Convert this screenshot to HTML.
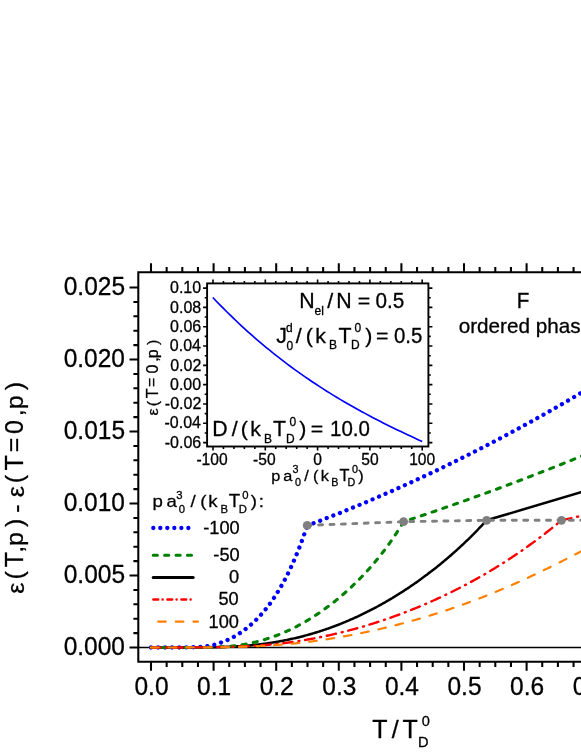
<!DOCTYPE html>
<html><head><meta charset="utf-8"><title>chart</title>
<style>html,body{margin:0;padding:0;background:#fff}svg{display:block;will-change:transform}text{font-family:"Liberation Sans",sans-serif;stroke:#000;stroke-width:.3px;stroke-linejoin:round}</style></head>
<body>
<svg width="581" height="752" viewBox="0 0 581 752" font-family="Liberation Sans, sans-serif" fill="#000">
<rect width="581" height="752" fill="#fff"/>
<g stroke="#000" stroke-width="2.05" fill="none" stroke-linecap="butt">
<path d="M583 272.3 H138.3 V661.7 H583"/>
<path d="M151.00 661.7 v9.0 M151.00 272.3 v-9.0 M166.65 661.7 v5.2 M166.65 272.3 v-5.2 M182.30 661.7 v5.2 M182.30 272.3 v-5.2 M197.95 661.7 v5.2 M197.95 272.3 v-5.2 M213.60 661.7 v9.0 M213.60 272.3 v-9.0 M229.25 661.7 v5.2 M229.25 272.3 v-5.2 M244.90 661.7 v5.2 M244.90 272.3 v-5.2 M260.55 661.7 v5.2 M260.55 272.3 v-5.2 M276.20 661.7 v9.0 M276.20 272.3 v-9.0 M291.85 661.7 v5.2 M291.85 272.3 v-5.2 M307.50 661.7 v5.2 M307.50 272.3 v-5.2 M323.15 661.7 v5.2 M323.15 272.3 v-5.2 M338.80 661.7 v9.0 M338.80 272.3 v-9.0 M354.45 661.7 v5.2 M354.45 272.3 v-5.2 M370.10 661.7 v5.2 M370.10 272.3 v-5.2 M385.75 661.7 v5.2 M385.75 272.3 v-5.2 M401.40 661.7 v9.0 M401.40 272.3 v-9.0 M417.05 661.7 v5.2 M417.05 272.3 v-5.2 M432.70 661.7 v5.2 M432.70 272.3 v-5.2 M448.35 661.7 v5.2 M448.35 272.3 v-5.2 M464.00 661.7 v9.0 M464.00 272.3 v-9.0 M479.65 661.7 v5.2 M479.65 272.3 v-5.2 M495.30 661.7 v5.2 M495.30 272.3 v-5.2 M510.95 661.7 v5.2 M510.95 272.3 v-5.2 M526.60 661.7 v9.0 M526.60 272.3 v-9.0 M542.25 661.7 v5.2 M542.25 272.3 v-5.2 M557.90 661.7 v5.2 M557.90 272.3 v-5.2 M573.55 661.7 v5.2 M573.55 272.3 v-5.2 M138.3 647.50 h-8.8 M138.3 633.10 h-4.9 M138.3 618.70 h-4.9 M138.3 604.30 h-4.9 M138.3 589.90 h-4.9 M138.3 575.50 h-8.8 M138.3 561.10 h-4.9 M138.3 546.70 h-4.9 M138.3 532.30 h-4.9 M138.3 517.90 h-4.9 M138.3 503.50 h-8.8 M138.3 489.10 h-4.9 M138.3 474.70 h-4.9 M138.3 460.30 h-4.9 M138.3 445.90 h-4.9 M138.3 431.50 h-8.8 M138.3 417.10 h-4.9 M138.3 402.70 h-4.9 M138.3 388.30 h-4.9 M138.3 373.90 h-4.9 M138.3 359.50 h-8.8 M138.3 345.10 h-4.9 M138.3 330.70 h-4.9 M138.3 316.30 h-4.9 M138.3 301.90 h-4.9 M138.3 287.50 h-8.8"/>
</g>
<path d="M138.3 647.5 H583" stroke="#000" stroke-width="1.7" fill="none"/>
<text transform="translate(124.96 655.30) scale(1 1.040)" font-size="24.5" text-anchor="end" >0.000</text>
<text transform="translate(125.03 583.30) scale(1 1.040)" font-size="24.5" text-anchor="end" >0.005</text>
<text transform="translate(124.96 511.30) scale(1 1.040)" font-size="24.5" text-anchor="end" >0.010</text>
<text transform="translate(125.03 439.30) scale(1 1.040)" font-size="24.5" text-anchor="end" >0.015</text>
<text transform="translate(124.96 367.30) scale(1 1.040)" font-size="24.5" text-anchor="end" >0.020</text>
<text transform="translate(125.03 295.30) scale(1 1.040)" font-size="24.5" text-anchor="end" >0.025</text>
<text transform="translate(151.50 694.50) scale(1 1.040)" font-size="24.5" text-anchor="middle" >0.0</text>
<text transform="translate(214.10 694.50) scale(1 1.040)" font-size="24.5" text-anchor="middle" >0.1</text>
<text transform="translate(276.70 694.50) scale(1 1.040)" font-size="24.5" text-anchor="middle" >0.2</text>
<text transform="translate(339.30 694.50) scale(1 1.040)" font-size="24.5" text-anchor="middle" >0.3</text>
<text transform="translate(401.90 694.50) scale(1 1.040)" font-size="24.5" text-anchor="middle" >0.4</text>
<text transform="translate(464.50 694.50) scale(1 1.040)" font-size="24.5" text-anchor="middle" >0.5</text>
<text transform="translate(527.10 694.50) scale(1 1.040)" font-size="24.5" text-anchor="middle" >0.6</text>
<text transform="translate(589.70 694.50) scale(1 1.040)" font-size="24.5" text-anchor="middle" >0.7</text>
<clipPath id="pc"><rect x="138.3" y="272.3" width="444.7" height="389.40000000000003"/></clipPath>
<g fill="none" clip-path="url(#pc)" stroke-linejoin="round">
<path d="M151.00 647.50 L152.00 647.50 L153.00 647.50 L154.00 647.50 L155.00 647.50 L156.00 647.50 L157.00 647.50 L158.00 647.50 L159.00 647.50 L160.00 647.50 L161.00 647.50 L162.00 647.50 L163.00 647.50 L164.00 647.50 L165.00 647.50 L166.00 647.50 L167.00 647.50 L168.00 647.50 L169.00 647.50 L170.00 647.50 L171.00 647.50 L172.00 647.50 L173.00 647.50 L174.00 647.50 L175.00 647.50 L176.00 647.49 L177.00 647.49 L178.00 647.49 L179.00 647.49 L180.00 647.49 L181.00 647.49 L182.00 647.49 L183.00 647.48 L184.00 647.48 L185.00 647.48 L186.00 647.48 L187.00 647.47 L188.00 647.47 L189.00 647.47 L190.00 647.46 L191.00 647.46 L192.00 647.45 L193.00 647.45 L194.00 647.44 L195.00 647.44 L196.00 647.43 L197.00 647.43 L198.00 647.42 L199.00 647.41 L200.00 647.40 L201.00 647.39 L202.00 647.38 L203.00 647.37 L204.00 647.36 L205.00 647.35 L206.00 647.34 L207.00 647.32 L208.00 647.31 L209.00 647.30 L210.00 647.28 L211.00 647.26 L212.00 647.25 L213.00 647.23 L214.00 647.21 L215.00 647.19 L216.00 647.16 L217.00 647.14 L218.00 647.12 L219.00 647.09 L220.00 647.07 L221.00 647.04 L222.00 647.01 L223.00 646.98 L224.00 646.94 L225.00 646.91 L226.00 646.88 L227.00 646.84 L228.00 646.80 L229.00 646.76 L230.00 646.72 L231.00 646.67 L232.00 646.63 L233.00 646.58 L234.00 646.53 L235.00 646.48 L236.00 646.42 L237.00 646.37 L238.00 646.31 L239.00 646.25 L240.00 646.18 L241.00 646.12 L242.00 646.05 L243.00 645.98 L244.00 645.91 L245.00 645.83 L246.00 645.75 L247.00 645.67 L248.00 645.59 L249.00 645.50 L250.00 645.41 L251.00 645.32 L252.00 645.22 L253.00 645.12 L254.00 645.02 L255.00 644.91 L256.00 644.80 L257.00 644.69 L258.00 644.57 L259.00 644.45 L260.00 644.33 L261.00 644.20 L262.00 644.08 L263.00 643.95 L264.00 643.81 L265.00 643.68 L266.00 643.54 L267.00 643.40 L268.00 643.25 L269.00 643.10 L270.00 642.95 L271.00 642.80 L272.00 642.64 L273.00 642.48 L274.00 642.32 L275.00 642.15 L276.00 641.98 L277.00 641.81 L278.00 641.64 L279.00 641.46 L280.00 641.27 L281.00 641.09 L282.00 640.90 L283.00 640.71 L284.00 640.52 L285.00 640.32 L286.00 640.12 L287.00 639.91 L288.00 639.71 L289.00 639.49 L290.00 639.28 L291.00 639.06 L292.00 638.84 L293.00 638.62 L294.00 638.39 L295.00 638.16 L296.00 637.92 L297.00 637.69 L298.00 637.45 L299.00 637.20 L300.00 636.95 L301.00 636.70 L302.00 636.45 L303.00 636.19 L304.00 635.93 L305.00 635.66 L306.00 635.39 L307.00 635.12 L308.00 634.84 L309.00 634.56 L310.00 634.28 L311.00 633.99 L312.00 633.70 L313.00 633.41 L314.00 633.11 L315.00 632.81 L316.00 632.50 L317.00 632.19 L318.00 631.88 L319.00 631.57 L320.00 631.25 L321.00 630.92 L322.00 630.60 L323.00 630.26 L324.00 629.93 L325.00 629.59 L326.00 629.25 L327.00 628.90 L328.00 628.56 L329.00 628.20 L330.00 627.85 L331.00 627.49 L332.00 627.12 L333.00 626.75 L334.00 626.38 L335.00 626.01 L336.00 625.63 L337.00 625.24 L338.00 624.86 L339.00 624.47 L340.00 624.07 L341.00 623.67 L342.00 623.27 L343.00 622.87 L344.00 622.46 L345.00 622.04 L346.00 621.63 L347.00 621.21 L348.00 620.78 L349.00 620.35 L350.00 619.92 L351.00 619.48 L352.00 619.04 L353.00 618.60 L354.00 618.15 L355.00 617.70 L356.00 617.24 L357.00 616.78 L358.00 616.32 L359.00 615.85 L360.00 615.38 L361.00 614.91 L362.00 614.43 L363.00 613.95 L364.00 613.46 L365.00 612.97 L366.00 612.47 L367.00 611.97 L368.00 611.47 L369.00 610.97 L370.00 610.46 L371.00 609.94 L372.00 609.42 L373.00 608.90 L374.00 608.38 L375.00 607.85 L376.00 607.31 L377.00 606.77 L378.00 606.23 L379.00 605.69 L380.00 605.14 L381.00 604.58 L382.00 604.02 L383.00 603.46 L384.00 602.90 L385.00 602.33 L386.00 601.75 L387.00 601.17 L388.00 600.59 L389.00 600.01 L390.00 599.42 L391.00 598.82 L392.00 598.22 L393.00 597.62 L394.00 597.02 L395.00 596.40 L396.00 595.79 L397.00 595.17 L398.00 594.55 L399.00 593.92 L400.00 593.29 L401.00 592.65 L402.00 592.02 L403.00 591.37 L404.00 590.72 L405.00 590.07 L406.00 589.42 L407.00 588.75 L408.00 588.09 L409.00 587.42 L410.00 586.75 L411.00 586.07 L412.00 585.39 L413.00 584.70 L414.00 584.01 L415.00 583.31 L416.00 582.62 L417.00 581.91 L418.00 581.20 L419.00 580.49 L420.00 579.77 L421.00 579.05 L422.00 578.33 L423.00 577.59 L424.00 576.86 L425.00 576.12 L426.00 575.37 L427.00 574.63 L428.00 573.87 L429.00 573.11 L430.00 572.35 L431.00 571.58 L432.00 570.81 L433.00 570.03 L434.00 569.25 L435.00 568.46 L436.00 567.67 L437.00 566.87 L438.00 566.07 L439.00 565.27 L440.00 564.45 L441.00 563.64 L442.00 562.82 L443.00 561.99 L444.00 561.16 L445.00 560.32 L446.00 559.48 L447.00 558.63 L448.00 557.78 L449.00 556.92 L450.00 556.06 L451.00 555.19 L452.00 554.31 L453.00 553.43 L454.00 552.55 L455.00 551.66 L456.00 550.76 L457.00 549.86 L458.00 548.95 L459.00 548.04 L460.00 547.12 L461.00 546.19 L462.00 545.26 L463.00 544.32 L464.00 543.38 L465.00 542.43 L466.00 541.47 L467.00 540.51 L468.00 539.54 L469.00 538.57 L470.00 537.59 L471.00 536.60 L472.00 535.60 L473.00 534.60 L474.00 533.60 L475.00 532.58 L476.00 531.56 L477.00 530.53 L478.00 529.50 L479.00 528.46 L480.00 527.41 L481.00 526.35 L482.00 525.29 L483.00 524.22 L484.00 523.14 L485.00 522.05 L486.00 520.96 L486.60 520.30 L581.00 492.20 L600.00 486.50" stroke="#000000" stroke-width="2.5" stroke-linecap="round" stroke-dashoffset="0"/>
<path d="M151.00 647.50 L152.00 647.50 L153.00 647.50 L154.00 647.50 L155.00 647.50 L156.00 647.50 L157.00 647.50 L158.00 647.50 L159.00 647.50 L160.00 647.50 L161.00 647.50 L162.00 647.50 L163.00 647.50 L164.00 647.50 L165.00 647.50 L166.00 647.50 L167.00 647.50 L168.00 647.50 L169.00 647.50 L170.00 647.50 L171.00 647.50 L172.00 647.50 L173.00 647.50 L174.00 647.49 L175.00 647.49 L176.00 647.49 L177.00 647.49 L178.00 647.48 L179.00 647.48 L180.00 647.47 L181.00 647.47 L182.00 647.46 L183.00 647.45 L184.00 647.44 L185.00 647.43 L186.00 647.42 L187.00 647.41 L188.00 647.39 L189.00 647.37 L190.00 647.35 L191.00 647.32 L192.00 647.30 L193.00 647.27 L194.00 647.23 L195.00 647.19 L196.00 647.15 L197.00 647.10 L198.00 647.04 L199.00 646.98 L200.00 646.91 L201.00 646.83 L202.00 646.75 L203.00 646.66 L204.00 646.55 L205.00 646.44 L206.00 646.32 L207.00 646.18 L208.00 646.03 L209.00 645.87 L210.00 645.70 L211.00 645.51 L212.00 645.30 L213.00 645.07 L214.00 644.83 L215.00 644.55 L216.00 644.26 L217.00 643.95 L218.00 643.64 L219.00 643.31 L220.00 642.96 L221.00 642.61 L222.00 642.24 L223.00 641.85 L224.00 641.46 L225.00 641.04 L226.00 640.62 L227.00 640.18 L228.00 639.72 L229.00 639.25 L230.00 638.77 L231.00 638.27 L232.00 637.75 L233.00 637.22 L234.00 636.67 L235.00 636.11 L236.00 635.52 L237.00 634.93 L238.00 634.31 L239.00 633.68 L240.00 633.03 L241.00 632.36 L242.00 631.67 L243.00 630.96 L244.00 630.24 L245.00 629.49 L246.00 628.73 L247.00 627.95 L248.00 627.14 L249.00 626.32 L250.00 625.47 L251.00 624.60 L252.00 623.72 L253.00 622.81 L254.00 621.87 L255.00 620.92 L256.00 619.94 L257.00 618.94 L258.00 617.91 L259.00 616.86 L260.00 615.78 L261.00 614.68 L262.00 613.55 L263.00 612.40 L264.00 611.22 L265.00 610.01 L266.00 608.78 L267.00 607.52 L268.00 606.22 L269.00 604.90 L270.00 603.55 L271.00 602.17 L272.00 600.76 L273.00 599.31 L274.00 597.84 L275.00 596.33 L276.00 594.79 L277.00 593.21 L278.00 591.60 L279.00 589.95 L280.00 588.27 L281.00 586.55 L282.00 584.80 L283.00 583.00 L284.00 581.17 L285.00 579.30 L286.00 577.38 L287.00 575.43 L288.00 573.43 L289.00 571.40 L290.00 569.31 L291.00 567.19 L292.00 565.02 L293.00 562.80 L294.00 560.54 L295.00 558.22 L296.00 555.86 L297.00 553.45 L298.00 550.99 L299.00 548.48 L300.00 545.91 L301.00 543.29 L302.00 540.62 L303.00 537.89 L304.00 535.11 L305.00 532.26 L306.00 529.36 L307.00 526.40 L307.20 525.40" stroke="#0000ff" stroke-width="4.3" stroke-dasharray="0.01 7.043" stroke-linecap="round" stroke-dashoffset="0"/>
<path d="M307.20 525.40 L315.20 522.57 L323.20 519.50 L331.20 516.37 L339.20 513.19 L347.20 509.96 L355.20 506.68 L363.20 503.35 L371.20 499.96 L379.20 496.53 L387.20 493.04 L395.20 489.50 L403.20 485.91 L411.20 482.27 L419.20 478.58 L427.20 474.84 L435.20 471.05 L443.20 467.20 L451.20 463.31 L459.20 459.36 L467.20 455.36 L475.20 451.31 L483.20 447.21 L491.20 443.06 L499.20 438.85 L507.20 434.60 L515.20 430.29 L523.20 425.94 L531.20 421.53 L539.20 417.07 L547.20 412.56 L555.20 408.00 L563.20 403.39 L571.20 398.72 L579.20 394.01 L587.20 389.24 L595.20 384.42 L600.00 381.51" stroke="#0000ff" stroke-width="4.3" stroke-dasharray="0.01 7.06" stroke-linecap="round" stroke-dashoffset="-6.7"/>
<path d="M151.00 647.50 L152.00 647.50 L153.00 647.50 L154.00 647.50 L155.00 647.50 L156.00 647.50 L157.00 647.50 L158.00 647.50 L159.00 647.50 L160.00 647.50 L161.00 647.50 L162.00 647.50 L163.00 647.50 L164.00 647.50 L165.00 647.50 L166.00 647.50 L167.00 647.50 L168.00 647.50 L169.00 647.50 L170.00 647.50 L171.00 647.50 L172.00 647.50 L173.00 647.50 L174.00 647.50 L175.00 647.50 L176.00 647.50 L177.00 647.50 L178.00 647.50 L179.00 647.50 L180.00 647.50 L181.00 647.50 L182.00 647.50 L183.00 647.49 L184.00 647.49 L185.00 647.49 L186.00 647.49 L187.00 647.49 L188.00 647.49 L189.00 647.48 L190.00 647.48 L191.00 647.48 L192.00 647.48 L193.00 647.47 L194.00 647.47 L195.00 647.46 L196.00 647.46 L197.00 647.45 L198.00 647.45 L199.00 647.44 L200.00 647.43 L201.00 647.42 L202.00 647.41 L203.00 647.40 L204.00 647.39 L205.00 647.38 L206.00 647.36 L207.00 647.35 L208.00 647.33 L209.00 647.31 L210.00 647.29 L211.00 647.27 L212.00 647.25 L213.00 647.22 L214.00 647.19 L215.00 647.16 L216.00 647.13 L217.00 647.09 L218.00 647.06 L219.00 647.01 L220.00 646.97 L221.00 646.92 L222.00 646.87 L223.00 646.82 L224.00 646.76 L225.00 646.70 L226.00 646.63 L227.00 646.56 L228.00 646.48 L229.00 646.40 L230.00 646.31 L231.00 646.22 L232.00 646.12 L233.00 646.02 L234.00 645.90 L235.00 645.79 L236.00 645.66 L237.00 645.53 L238.00 645.39 L239.00 645.24 L240.00 645.09 L241.00 644.93 L242.00 644.77 L243.00 644.60 L244.00 644.42 L245.00 644.25 L246.00 644.06 L247.00 643.87 L248.00 643.67 L249.00 643.47 L250.00 643.27 L251.00 643.05 L252.00 642.83 L253.00 642.61 L254.00 642.38 L255.00 642.14 L256.00 641.90 L257.00 641.65 L258.00 641.39 L259.00 641.13 L260.00 640.86 L261.00 640.59 L262.00 640.31 L263.00 640.02 L264.00 639.73 L265.00 639.43 L266.00 639.12 L267.00 638.81 L268.00 638.49 L269.00 638.16 L270.00 637.83 L271.00 637.49 L272.00 637.14 L273.00 636.79 L274.00 636.43 L275.00 636.07 L276.00 635.69 L277.00 635.31 L278.00 634.93 L279.00 634.53 L280.00 634.13 L281.00 633.73 L282.00 633.31 L283.00 632.89 L284.00 632.46 L285.00 632.03 L286.00 631.59 L287.00 631.14 L288.00 630.68 L289.00 630.22 L290.00 629.75 L291.00 629.28 L292.00 628.79 L293.00 628.30 L294.00 627.80 L295.00 627.30 L296.00 626.79 L297.00 626.27 L298.00 625.74 L299.00 625.21 L300.00 624.67 L301.00 624.12 L302.00 623.57 L303.00 623.00 L304.00 622.44 L305.00 621.86 L306.00 621.28 L307.00 620.69 L308.00 620.09 L309.00 619.48 L310.00 618.87 L311.00 618.25 L312.00 617.63 L313.00 616.99 L314.00 616.35 L315.00 615.70 L316.00 615.05 L317.00 614.39 L318.00 613.72 L319.00 613.04 L320.00 612.35 L321.00 611.66 L322.00 610.96 L323.00 610.26 L324.00 609.54 L325.00 608.82 L326.00 608.09 L327.00 607.35 L328.00 606.61 L329.00 605.86 L330.00 605.10 L331.00 604.33 L332.00 603.56 L333.00 602.77 L334.00 601.98 L335.00 601.19 L336.00 600.38 L337.00 599.57 L338.00 598.75 L339.00 597.92 L340.00 597.08 L341.00 596.23 L342.00 595.38 L343.00 594.52 L344.00 593.65 L345.00 592.77 L346.00 591.88 L347.00 590.98 L348.00 590.08 L349.00 589.17 L350.00 588.25 L351.00 587.31 L352.00 586.38 L353.00 585.43 L354.00 584.47 L355.00 583.50 L356.00 582.53 L357.00 581.54 L358.00 580.54 L359.00 579.54 L360.00 578.52 L361.00 577.50 L362.00 576.46 L363.00 575.42 L364.00 574.36 L365.00 573.29 L366.00 572.22 L367.00 571.13 L368.00 570.03 L369.00 568.92 L370.00 567.79 L371.00 566.66 L372.00 565.51 L373.00 564.36 L374.00 563.19 L375.00 562.00 L376.00 560.81 L377.00 559.60 L378.00 558.38 L379.00 557.14 L380.00 555.90 L381.00 554.63 L382.00 553.36 L383.00 552.06 L384.00 550.76 L385.00 549.44 L386.00 548.10 L387.00 546.75 L388.00 545.38 L389.00 544.00 L390.00 542.60 L391.00 541.18 L392.00 539.74 L393.00 538.29 L394.00 536.82 L395.00 535.33 L396.00 533.82 L397.00 532.29 L398.00 530.75 L399.00 529.18 L400.00 527.59 L401.00 525.98 L402.00 524.35 L403.00 522.70 L403.60 521.70 L411.60 519.04 L419.60 516.36 L427.60 513.65 L435.60 510.91 L443.60 508.14 L451.60 505.35 L459.60 502.53 L467.60 499.69 L475.60 496.81 L483.60 493.91 L491.60 490.98 L499.60 488.03 L507.60 485.05 L515.60 482.04 L523.60 479.00 L531.60 475.94 L539.60 472.84 L547.60 469.73 L555.60 466.58 L563.60 463.41 L571.60 460.21 L579.60 456.98 L587.60 453.73 L595.60 450.45 L600.00 448.63" stroke="#008000" stroke-width="3.1" stroke-dasharray="4.1 7.3" stroke-linecap="round" stroke-dashoffset="0"/>
<path d="M151.00 647.50 L152.00 647.50 L153.00 647.50 L154.00 647.50 L155.00 647.50 L156.00 647.50 L157.00 647.50 L158.00 647.50 L159.00 647.50 L160.00 647.50 L161.00 647.50 L162.00 647.50 L163.00 647.50 L164.00 647.50 L165.00 647.50 L166.00 647.50 L167.00 647.50 L168.00 647.50 L169.00 647.50 L170.00 647.50 L171.00 647.50 L172.00 647.50 L173.00 647.49 L174.00 647.49 L175.00 647.49 L176.00 647.49 L177.00 647.49 L178.00 647.49 L179.00 647.49 L180.00 647.48 L181.00 647.48 L182.00 647.48 L183.00 647.48 L184.00 647.47 L185.00 647.47 L186.00 647.47 L187.00 647.47 L188.00 647.46 L189.00 647.46 L190.00 647.45 L191.00 647.45 L192.00 647.44 L193.00 647.44 L194.00 647.43 L195.00 647.43 L196.00 647.42 L197.00 647.41 L198.00 647.41 L199.00 647.40 L200.00 647.39 L201.00 647.38 L202.00 647.37 L203.00 647.36 L204.00 647.35 L205.00 647.34 L206.00 647.33 L207.00 647.32 L208.00 647.31 L209.00 647.30 L210.00 647.28 L211.00 647.27 L212.00 647.25 L213.00 647.24 L214.00 647.22 L215.00 647.21 L216.00 647.19 L217.00 647.17 L218.00 647.15 L219.00 647.13 L220.00 647.11 L221.00 647.09 L222.00 647.07 L223.00 647.05 L224.00 647.02 L225.00 647.00 L226.00 646.97 L227.00 646.95 L228.00 646.92 L229.00 646.89 L230.00 646.86 L231.00 646.83 L232.00 646.80 L233.00 646.77 L234.00 646.73 L235.00 646.70 L236.00 646.66 L237.00 646.63 L238.00 646.59 L239.00 646.55 L240.00 646.51 L241.00 646.47 L242.00 646.42 L243.00 646.38 L244.00 646.33 L245.00 646.29 L246.00 646.24 L247.00 646.19 L248.00 646.14 L249.00 646.08 L250.00 646.03 L251.00 645.97 L252.00 645.92 L253.00 645.86 L254.00 645.80 L255.00 645.73 L256.00 645.67 L257.00 645.61 L258.00 645.54 L259.00 645.47 L260.00 645.40 L261.00 645.33 L262.00 645.25 L263.00 645.18 L264.00 645.10 L265.00 645.02 L266.00 644.94 L267.00 644.86 L268.00 644.77 L269.00 644.68 L270.00 644.59 L271.00 644.50 L272.00 644.41 L273.00 644.31 L274.00 644.22 L275.00 644.12 L276.00 644.01 L277.00 643.91 L278.00 643.80 L279.00 643.69 L280.00 643.58 L281.00 643.47 L282.00 643.35 L283.00 643.23 L284.00 643.11 L285.00 642.99 L286.00 642.86 L287.00 642.74 L288.00 642.61 L289.00 642.47 L290.00 642.34 L291.00 642.20 L292.00 642.06 L293.00 641.91 L294.00 641.76 L295.00 641.61 L296.00 641.46 L297.00 641.31 L298.00 641.15 L299.00 640.99 L300.00 640.83 L301.00 640.67 L302.00 640.51 L303.00 640.34 L304.00 640.17 L305.00 640.00 L306.00 639.83 L307.00 639.66 L308.00 639.48 L309.00 639.30 L310.00 639.12 L311.00 638.94 L312.00 638.75 L313.00 638.57 L314.00 638.38 L315.00 638.19 L316.00 637.99 L317.00 637.80 L318.00 637.60 L319.00 637.40 L320.00 637.20 L321.00 637.00 L322.00 636.79 L323.00 636.58 L324.00 636.37 L325.00 636.16 L326.00 635.95 L327.00 635.73 L328.00 635.52 L329.00 635.30 L330.00 635.07 L331.00 634.85 L332.00 634.62 L333.00 634.39 L334.00 634.16 L335.00 633.93 L336.00 633.70 L337.00 633.46 L338.00 633.22 L339.00 632.98 L340.00 632.74 L341.00 632.49 L342.00 632.24 L343.00 632.00 L344.00 631.74 L345.00 631.49 L346.00 631.23 L347.00 630.98 L348.00 630.72 L349.00 630.45 L350.00 630.19 L351.00 629.92 L352.00 629.66 L353.00 629.39 L354.00 629.11 L355.00 628.84 L356.00 628.56 L357.00 628.28 L358.00 628.00 L359.00 627.72 L360.00 627.43 L361.00 627.14 L362.00 626.86 L363.00 626.56 L364.00 626.27 L365.00 625.97 L366.00 625.68 L367.00 625.38 L368.00 625.07 L369.00 624.77 L370.00 624.46 L371.00 624.15 L372.00 623.84 L373.00 623.53 L374.00 623.21 L375.00 622.90 L376.00 622.58 L377.00 622.25 L378.00 621.93 L379.00 621.60 L380.00 621.28 L381.00 620.95 L382.00 620.61 L383.00 620.28 L384.00 619.94 L385.00 619.60 L386.00 619.26 L387.00 618.92 L388.00 618.57 L389.00 618.23 L390.00 617.88 L391.00 617.52 L392.00 617.17 L393.00 616.81 L394.00 616.45 L395.00 616.09 L396.00 615.73 L397.00 615.37 L398.00 615.00 L399.00 614.63 L400.00 614.26 L401.00 613.88 L402.00 613.51 L403.00 613.13 L404.00 612.75 L405.00 612.36 L406.00 611.98 L407.00 611.59 L408.00 611.20 L409.00 610.81 L410.00 610.42 L411.00 610.02 L412.00 609.62 L413.00 609.22 L414.00 608.82 L415.00 608.41 L416.00 608.00 L417.00 607.59 L418.00 607.18 L419.00 606.77 L420.00 606.35 L421.00 605.93 L422.00 605.51 L423.00 605.09 L424.00 604.66 L425.00 604.23 L426.00 603.80 L427.00 603.37 L428.00 602.93 L429.00 602.50 L430.00 602.06 L431.00 601.61 L432.00 601.17 L433.00 600.72 L434.00 600.27 L435.00 599.82 L436.00 599.37 L437.00 598.91 L438.00 598.45 L439.00 597.99 L440.00 597.53 L441.00 597.06 L442.00 596.59 L443.00 596.12 L444.00 595.65 L445.00 595.17 L446.00 594.69 L447.00 594.21 L448.00 593.73 L449.00 593.24 L450.00 592.76 L451.00 592.27 L452.00 591.77 L453.00 591.28 L454.00 590.78 L455.00 590.28 L456.00 589.78 L457.00 589.27 L458.00 588.76 L459.00 588.25 L460.00 587.74 L461.00 587.22 L462.00 586.70 L463.00 586.18 L464.00 585.66 L465.00 585.13 L466.00 584.60 L467.00 584.07 L468.00 583.54 L469.00 583.00 L470.00 582.46 L471.00 581.92 L472.00 581.37 L473.00 580.83 L474.00 580.28 L475.00 579.72 L476.00 579.17 L477.00 578.61 L478.00 578.05 L479.00 577.48 L480.00 576.92 L481.00 576.35 L482.00 575.78 L483.00 575.20 L484.00 574.62 L485.00 574.04 L486.00 573.46 L487.00 572.87 L488.00 572.29 L489.00 571.69 L490.00 571.10 L491.00 570.50 L492.00 569.90 L493.00 569.30 L494.00 568.69 L495.00 568.08 L496.00 567.47 L497.00 566.85 L498.00 566.24 L499.00 565.62 L500.00 564.99 L501.00 564.36 L502.00 563.73 L503.00 563.10 L504.00 562.47 L505.00 561.83 L506.00 561.18 L507.00 560.54 L508.00 559.89 L509.00 559.24 L510.00 558.58 L511.00 557.93 L512.00 557.27 L513.00 556.60 L514.00 555.93 L515.00 555.26 L516.00 554.59 L517.00 553.91 L518.00 553.23 L519.00 552.55 L520.00 551.86 L521.00 551.17 L522.00 550.48 L523.00 549.78 L524.00 549.08 L525.00 548.38 L526.00 547.67 L527.00 546.96 L528.00 546.25 L529.00 545.53 L530.00 544.81 L531.00 544.09 L532.00 543.36 L533.00 542.63 L534.00 541.90 L535.00 541.16 L536.00 540.42 L537.00 539.68 L538.00 538.93 L539.00 538.18 L540.00 537.42 L541.00 536.66 L542.00 535.90 L543.00 535.14 L544.00 534.37 L545.00 533.59 L546.00 532.82 L547.00 532.04 L548.00 531.25 L549.00 530.46 L550.00 529.67 L551.00 528.88 L552.00 528.08 L553.00 527.27 L554.00 526.47 L555.00 525.66 L556.00 524.84 L557.00 524.03 L558.00 523.20 L559.00 522.38 L560.00 521.55 L561.00 520.71 L561.50 520.30 L581.00 515.90 L600.00 511.60" stroke="#ff0000" stroke-width="2.4" stroke-dasharray="9.4 5.9 1.0 5.77" stroke-linecap="round" stroke-dashoffset="0"/>
<path d="M151.00 647.50 L152.00 647.50 L153.00 647.50 L154.00 647.50 L155.00 647.50 L156.00 647.50 L157.00 647.50 L158.00 647.50 L159.00 647.50 L160.00 647.50 L161.00 647.50 L162.00 647.50 L163.00 647.50 L164.00 647.50 L165.00 647.50 L166.00 647.50 L167.00 647.50 L168.00 647.50 L169.00 647.50 L170.00 647.50 L171.00 647.50 L172.00 647.50 L173.00 647.49 L174.00 647.49 L175.00 647.49 L176.00 647.49 L177.00 647.49 L178.00 647.49 L179.00 647.49 L180.00 647.49 L181.00 647.48 L182.00 647.48 L183.00 647.48 L184.00 647.48 L185.00 647.48 L186.00 647.47 L187.00 647.47 L188.00 647.47 L189.00 647.46 L190.00 647.46 L191.00 647.46 L192.00 647.45 L193.00 647.45 L194.00 647.44 L195.00 647.44 L196.00 647.44 L197.00 647.43 L198.00 647.42 L199.00 647.42 L200.00 647.41 L201.00 647.41 L202.00 647.40 L203.00 647.39 L204.00 647.38 L205.00 647.38 L206.00 647.37 L207.00 647.36 L208.00 647.35 L209.00 647.34 L210.00 647.33 L211.00 647.32 L212.00 647.31 L213.00 647.30 L214.00 647.28 L215.00 647.27 L216.00 647.26 L217.00 647.25 L218.00 647.23 L219.00 647.22 L220.00 647.20 L221.00 647.19 L222.00 647.17 L223.00 647.15 L224.00 647.14 L225.00 647.12 L226.00 647.10 L227.00 647.08 L228.00 647.06 L229.00 647.04 L230.00 647.02 L231.00 647.00 L232.00 646.97 L233.00 646.95 L234.00 646.92 L235.00 646.90 L236.00 646.87 L237.00 646.85 L238.00 646.82 L239.00 646.79 L240.00 646.76 L241.00 646.73 L242.00 646.70 L243.00 646.67 L244.00 646.64 L245.00 646.60 L246.00 646.57 L247.00 646.53 L248.00 646.50 L249.00 646.46 L250.00 646.42 L251.00 646.38 L252.00 646.34 L253.00 646.30 L254.00 646.26 L255.00 646.21 L256.00 646.17 L257.00 646.12 L258.00 646.08 L259.00 646.03 L260.00 645.98 L261.00 645.93 L262.00 645.88 L263.00 645.83 L264.00 645.77 L265.00 645.72 L266.00 645.66 L267.00 645.60 L268.00 645.54 L269.00 645.48 L270.00 645.42 L271.00 645.36 L272.00 645.29 L273.00 645.23 L274.00 645.16 L275.00 645.09 L276.00 645.02 L277.00 644.95 L278.00 644.88 L279.00 644.80 L280.00 644.73 L281.00 644.65 L282.00 644.57 L283.00 644.49 L284.00 644.41 L285.00 644.33 L286.00 644.24 L287.00 644.15 L288.00 644.07 L289.00 643.98 L290.00 643.88 L291.00 643.79 L292.00 643.70 L293.00 643.60 L294.00 643.50 L295.00 643.40 L296.00 643.30 L297.00 643.19 L298.00 643.09 L299.00 642.98 L300.00 642.87 L301.00 642.76 L302.00 642.64 L303.00 642.53 L304.00 642.41 L305.00 642.29 L306.00 642.17 L307.00 642.04 L308.00 641.92 L309.00 641.79 L310.00 641.66 L311.00 641.53 L312.00 641.40 L313.00 641.26 L314.00 641.13 L315.00 640.99 L316.00 640.85 L317.00 640.71 L318.00 640.57 L319.00 640.43 L320.00 640.28 L321.00 640.13 L322.00 639.99 L323.00 639.84 L324.00 639.69 L325.00 639.54 L326.00 639.38 L327.00 639.23 L328.00 639.07 L329.00 638.92 L330.00 638.76 L331.00 638.60 L332.00 638.43 L333.00 638.27 L334.00 638.11 L335.00 637.94 L336.00 637.77 L337.00 637.60 L338.00 637.43 L339.00 637.26 L340.00 637.09 L341.00 636.91 L342.00 636.74 L343.00 636.56 L344.00 636.38 L345.00 636.20 L346.00 636.02 L347.00 635.84 L348.00 635.65 L349.00 635.47 L350.00 635.28 L351.00 635.09 L352.00 634.90 L353.00 634.71 L354.00 634.51 L355.00 634.32 L356.00 634.12 L357.00 633.93 L358.00 633.73 L359.00 633.53 L360.00 633.32 L361.00 633.12 L362.00 632.92 L363.00 632.71 L364.00 632.50 L365.00 632.29 L366.00 632.08 L367.00 631.87 L368.00 631.66 L369.00 631.44 L370.00 631.23 L371.00 631.01 L372.00 630.79 L373.00 630.57 L374.00 630.35 L375.00 630.12 L376.00 629.90 L377.00 629.67 L378.00 629.44 L379.00 629.21 L380.00 628.98 L381.00 628.75 L382.00 628.52 L383.00 628.28 L384.00 628.04 L385.00 627.81 L386.00 627.57 L387.00 627.33 L388.00 627.08 L389.00 626.84 L390.00 626.59 L391.00 626.35 L392.00 626.10 L393.00 625.85 L394.00 625.60 L395.00 625.34 L396.00 625.09 L397.00 624.83 L398.00 624.58 L399.00 624.32 L400.00 624.06 L401.00 623.79 L402.00 623.53 L403.00 623.27 L404.00 623.00 L405.00 622.73 L406.00 622.46 L407.00 622.19 L408.00 621.92 L409.00 621.65 L410.00 621.37 L411.00 621.09 L412.00 620.82 L413.00 620.54 L414.00 620.25 L415.00 619.97 L416.00 619.69 L417.00 619.40 L418.00 619.11 L419.00 618.82 L420.00 618.53 L421.00 618.24 L422.00 617.95 L423.00 617.65 L424.00 617.36 L425.00 617.06 L426.00 616.76 L427.00 616.46 L428.00 616.15 L429.00 615.85 L430.00 615.54 L431.00 615.23 L432.00 614.92 L433.00 614.61 L434.00 614.30 L435.00 613.99 L436.00 613.67 L437.00 613.35 L438.00 613.04 L439.00 612.72 L440.00 612.39 L441.00 612.07 L442.00 611.75 L443.00 611.42 L444.00 611.09 L445.00 610.76 L446.00 610.43 L447.00 610.10 L448.00 609.76 L449.00 609.43 L450.00 609.09 L451.00 608.75 L452.00 608.41 L453.00 608.06 L454.00 607.72 L455.00 607.37 L456.00 607.03 L457.00 606.68 L458.00 606.33 L459.00 605.97 L460.00 605.62 L461.00 605.26 L462.00 604.91 L463.00 604.55 L464.00 604.19 L465.00 603.82 L466.00 603.46 L467.00 603.10 L468.00 602.73 L469.00 602.36 L470.00 601.99 L471.00 601.62 L472.00 601.24 L473.00 600.87 L474.00 600.49 L475.00 600.11 L476.00 599.73 L477.00 599.35 L478.00 598.97 L479.00 598.58 L480.00 598.19 L481.00 597.80 L482.00 597.41 L483.00 597.02 L484.00 596.63 L485.00 596.23 L486.00 595.84 L487.00 595.44 L488.00 595.04 L489.00 594.64 L490.00 594.23 L491.00 593.83 L492.00 593.42 L493.00 593.01 L494.00 592.60 L495.00 592.19 L496.00 591.78 L497.00 591.36 L498.00 590.95 L499.00 590.53 L500.00 590.11 L501.00 589.69 L502.00 589.26 L503.00 588.84 L504.00 588.41 L505.00 587.98 L506.00 587.55 L507.00 587.12 L508.00 586.69 L509.00 586.26 L510.00 585.82 L511.00 585.38 L512.00 584.94 L513.00 584.50 L514.00 584.06 L515.00 583.62 L516.00 583.17 L517.00 582.72 L518.00 582.28 L519.00 581.83 L520.00 581.37 L521.00 580.92 L522.00 580.47 L523.00 580.01 L524.00 579.55 L525.00 579.09 L526.00 578.63 L527.00 578.17 L528.00 577.71 L529.00 577.24 L530.00 576.78 L531.00 576.31 L532.00 575.84 L533.00 575.37 L534.00 574.89 L535.00 574.42 L536.00 573.95 L537.00 573.47 L538.00 572.99 L539.00 572.51 L540.00 572.03 L541.00 571.55 L542.00 571.07 L543.00 570.58 L544.00 570.10 L545.00 569.61 L546.00 569.12 L547.00 568.63 L548.00 568.14 L549.00 567.65 L550.00 567.16 L551.00 566.66 L552.00 566.17 L553.00 565.67 L554.00 565.17 L555.00 564.67 L556.00 564.17 L557.00 563.67 L558.00 563.17 L559.00 562.66 L560.00 562.16 L561.00 561.65 L562.00 561.15 L563.00 560.64 L564.00 560.13 L565.00 559.62 L566.00 559.11 L567.00 558.60 L568.00 558.09 L569.00 557.58 L570.00 557.07 L571.00 556.55 L572.00 556.04 L573.00 555.52 L574.00 555.00 L575.00 554.49 L576.00 553.97 L577.00 553.45 L578.00 552.93 L579.00 552.41 L580.00 551.89 L581.00 551.37 L582.00 550.85 L583.00 550.33 L584.00 549.81 L585.00 549.29 L586.00 548.76 L587.00 548.24 L588.00 547.72 L589.00 547.20 L590.00 546.67 L591.00 546.15 L592.00 545.62 L593.00 545.10 L594.00 544.58 L595.00 544.05 L596.00 543.53 L597.00 543.01 L598.00 542.48 L599.00 541.96" stroke="#ff8000" stroke-width="2.2" stroke-dasharray="7.6 10.0" stroke-linecap="round" stroke-dashoffset="0"/>
<path d="M307.20 525.40 L403.60 521.70 L486.60 520.30 L561.50 520.30 L600.00 520.30" stroke="#808080" stroke-width="2.9" stroke-dasharray="4.0 7.4" stroke-linecap="round"/>
<circle cx="307.2" cy="525.4" r="4.4" fill="#808080"/>
<circle cx="403.6" cy="521.7" r="4.4" fill="#808080"/>
<circle cx="486.6" cy="520.3" r="4.4" fill="#808080"/>
<circle cx="561.5" cy="520.3" r="4.4" fill="#808080"/>
</g>
<text transform="translate(516.80 307.90) scale(1 1.040)" font-size="20.7" text-anchor="start" >F</text>
<text transform="translate(458.73 332.80) scale(1 0.990)" font-size="20.7" text-anchor="start" >ordered phase</text>
<text transform="translate(372.34 737.50) scale(1 1.040)" font-size="25" text-anchor="start" >T</text>
<text transform="translate(391.80 737.50) scale(1 0.960)" font-size="25" text-anchor="start" >/</text>
<text transform="translate(402.44 737.50) scale(1 1.040)" font-size="25" text-anchor="start" >T</text>
<text transform="translate(421.73 725.80) scale(1 0.988)" font-size="14.6" text-anchor="start" >0</text>
<text transform="translate(417.90 746.60) scale(1 0.988)" font-size="14.6" text-anchor="start" >D</text>
<text transform="translate(24.38 593.85) rotate(-90) scale(1 0.950)" font-size="25">ε</text>
<text transform="translate(23.00 579.45) rotate(-90) scale(1 0.960)" font-size="25">(</text>
<text transform="translate(23.00 567.26) rotate(-90) scale(1 1.040)" font-size="25">T</text>
<text transform="translate(23.00 552.75) rotate(-90) scale(1 0.960)" font-size="25">,</text>
<text transform="translate(23.00 545.91) rotate(-90) scale(1 0.990)" font-size="25">p</text>
<text transform="translate(23.00 527.05) rotate(-90) scale(1 0.960)" font-size="25">)</text>
<text transform="translate(23.60 512.71) rotate(-90) scale(1 0.960)" font-size="25">-</text>
<text transform="translate(24.38 497.35) rotate(-90) scale(1 0.950)" font-size="25">ε</text>
<text transform="translate(23.00 483.25) rotate(-90) scale(1 0.960)" font-size="25">(</text>
<text transform="translate(23.00 470.46) rotate(-90) scale(1 1.040)" font-size="25">T</text>
<text transform="translate(22.20 452.32) rotate(-90) scale(1 0.960)" font-size="25">=</text>
<text transform="translate(23.00 433.88) rotate(-90) scale(1 1.040)" font-size="25">0</text>
<text transform="translate(23.00 416.15) rotate(-90) scale(1 0.960)" font-size="25">,</text>
<text transform="translate(23.00 409.21) rotate(-90) scale(1 0.990)" font-size="25">p</text>
<text transform="translate(23.00 390.15) rotate(-90) scale(1 0.960)" font-size="25">)</text>
<text transform="translate(152.60 507.00) scale(1 0.921)" font-size="18.67" text-anchor="start" >p</text>
<text transform="translate(166.41 507.00) scale(1 0.921)" font-size="18.67" text-anchor="start" >a</text>
<text transform="translate(190.40 507.00) scale(1 0.893)" font-size="18.67" text-anchor="start" >/</text>
<text transform="translate(200.24 507.00) scale(1 0.893)" font-size="18.67" text-anchor="start" >(</text>
<text transform="translate(208.24 507.00) scale(1 0.921)" font-size="18.67" text-anchor="start" >k</text>
<text transform="translate(228.78 507.00) scale(1 0.967)" font-size="18.67" text-anchor="start" >T</text>
<text transform="translate(250.79 507.00) scale(1 0.893)" font-size="18.67" text-anchor="start" >)</text>
<text transform="translate(258.80 507.00) scale(1 0.893)" font-size="18.67" text-anchor="start" >:</text>
<text transform="translate(176.17 499.30) scale(1 0.957)" font-size="11.3" text-anchor="start" >3</text>
<text transform="translate(178.76 513.10) scale(1 0.957)" font-size="11.3" text-anchor="start" >0</text>
<text transform="translate(220.57 513.10) scale(1 0.957)" font-size="11.3" text-anchor="start" >B</text>
<text transform="translate(238.77 513.10) scale(1 0.957)" font-size="11.3" text-anchor="start" >D</text>
<text transform="translate(242.16 499.30) scale(1 0.957)" font-size="11.3" text-anchor="start" >0</text>
<text transform="translate(239.61 534.00) scale(1 1.040)" font-size="18.2" text-anchor="end" >-100</text>
<text transform="translate(239.61 561.20) scale(1 1.040)" font-size="18.2" text-anchor="end" >-50</text>
<text transform="translate(239.11 583.10) scale(1 1.040)" font-size="18.2" text-anchor="end" >0</text>
<text transform="translate(238.61 605.20) scale(1 1.040)" font-size="18.2" text-anchor="end" >50</text>
<text transform="translate(238.91 627.70) scale(1 1.040)" font-size="18.2" text-anchor="end" >100</text>
<g fill="none">
<path d="M153.3 528 H189" stroke="#0000ff" stroke-width="4.3" stroke-dasharray="0.01 7.0" stroke-linecap="round"/>
<path d="M153.25 555.2 H191.5" stroke="#008000" stroke-width="3.1" stroke-dasharray="4.1 7.3" stroke-linecap="round"/>
<path d="M153.2 577.4 H193.2" stroke="#000000" stroke-width="3.0" stroke-linecap="round"/>
<path d="M153.35 599.5 H192" stroke="#ff0000" stroke-width="2.5" stroke-dasharray="4.8 4.45 0.01 4.75" stroke-linecap="round"/>
<path d="M158.2 621.6 H198" stroke="#ff8000" stroke-width="2.2" stroke-dasharray="7.6 10.0" stroke-linecap="round"/>
</g>
<rect x="207.1" y="283.4" width="221.29999999999998" height="163.10000000000002" fill="#fff" stroke="#000" stroke-width="1.9"/>
<path d="M213.00 446.5 v4.0 M213.00 283.4 v-4.0 M223.46 446.5 v2.4 M223.46 283.4 v-2.4 M233.92 446.5 v2.4 M233.92 283.4 v-2.4 M244.38 446.5 v2.4 M244.38 283.4 v-2.4 M254.84 446.5 v2.4 M254.84 283.4 v-2.4 M265.30 446.5 v4.0 M265.30 283.4 v-4.0 M275.76 446.5 v2.4 M275.76 283.4 v-2.4 M286.22 446.5 v2.4 M286.22 283.4 v-2.4 M296.68 446.5 v2.4 M296.68 283.4 v-2.4 M307.14 446.5 v2.4 M307.14 283.4 v-2.4 M317.60 446.5 v4.0 M317.60 283.4 v-4.0 M328.06 446.5 v2.4 M328.06 283.4 v-2.4 M338.52 446.5 v2.4 M338.52 283.4 v-2.4 M348.98 446.5 v2.4 M348.98 283.4 v-2.4 M359.44 446.5 v2.4 M359.44 283.4 v-2.4 M369.90 446.5 v4.0 M369.90 283.4 v-4.0 M380.36 446.5 v2.4 M380.36 283.4 v-2.4 M390.82 446.5 v2.4 M390.82 283.4 v-2.4 M401.28 446.5 v2.4 M401.28 283.4 v-2.4 M411.74 446.5 v2.4 M411.74 283.4 v-2.4 M422.20 446.5 v4.0 M422.20 283.4 v-4.0 M207.1 288.10 h-4.0 M428.4 288.10 h4.0 M207.1 297.75 h-2.4 M428.4 297.75 h2.4 M207.1 307.41 h-4.0 M428.4 307.41 h4.0 M207.1 317.06 h-2.4 M428.4 317.06 h2.4 M207.1 326.72 h-4.0 M428.4 326.72 h4.0 M207.1 336.38 h-2.4 M428.4 336.38 h2.4 M207.1 346.03 h-4.0 M428.4 346.03 h4.0 M207.1 355.69 h-2.4 M428.4 355.69 h2.4 M207.1 365.34 h-4.0 M428.4 365.34 h4.0 M207.1 375.00 h-2.4 M428.4 375.00 h2.4 M207.1 384.65 h-4.0 M428.4 384.65 h4.0 M207.1 394.31 h-2.4 M428.4 394.31 h2.4 M207.1 403.96 h-4.0 M428.4 403.96 h4.0 M207.1 413.62 h-2.4 M428.4 413.62 h2.4 M207.1 423.27 h-4.0 M428.4 423.27 h4.0 M207.1 432.93 h-2.4 M428.4 432.93 h2.4 M207.1 442.58 h-4.0 M428.4 442.58 h4.0" stroke="#000" stroke-width="1.6" fill="none"/>
<path d="M212.80 297.50 L216.35 301.21 L219.90 304.86 L223.45 308.45 L227.00 311.99 L230.55 315.46 L234.09 318.89 L237.64 322.25 L241.19 325.57 L244.74 328.83 L248.29 332.04 L251.84 335.19 L255.39 338.30 L258.94 341.35 L262.49 344.36 L266.04 347.31 L269.59 350.22 L273.14 353.08 L276.68 355.90 L280.23 358.67 L283.78 361.40 L287.33 364.08 L290.88 366.72 L294.43 369.32 L297.98 371.87 L301.53 374.39 L305.08 376.86 L308.63 379.30 L312.18 381.70 L315.73 384.06 L319.27 386.38 L322.82 388.67 L326.37 390.93 L329.92 393.15 L333.47 395.33 L337.02 397.49 L340.57 399.61 L344.12 401.70 L347.67 403.76 L351.22 405.79 L354.77 407.80 L358.32 409.77 L361.86 411.72 L365.41 413.64 L368.96 415.54 L372.51 417.41 L376.06 419.26 L379.61 421.09 L383.16 422.89 L386.71 424.67 L390.26 426.43 L393.81 428.18 L397.36 429.90 L400.91 431.61 L404.45 433.29 L408.00 434.96 L411.55 436.62 L415.10 438.26 L418.65 439.89 L422.20 441.50" stroke="#0000ff" stroke-width="1.65" fill="none"/>
<text transform="translate(201.12 293.30) scale(1 1.040)" font-size="16" text-anchor="end" >0.10</text>
<text transform="translate(201.20 312.61) scale(1 1.040)" font-size="16" text-anchor="end" >0.08</text>
<text transform="translate(201.20 331.92) scale(1 1.040)" font-size="16" text-anchor="end" >0.06</text>
<text transform="translate(200.97 351.23) scale(1 1.040)" font-size="16" text-anchor="end" >0.04</text>
<text transform="translate(201.30 370.54) scale(1 1.040)" font-size="16" text-anchor="end" >0.02</text>
<text transform="translate(201.12 389.85) scale(1 1.040)" font-size="16" text-anchor="end" >0.00</text>
<text transform="translate(201.30 409.16) scale(1 1.040)" font-size="16" text-anchor="end" >-0.02</text>
<text transform="translate(200.97 428.47) scale(1 1.040)" font-size="16" text-anchor="end" >-0.04</text>
<text transform="translate(201.20 447.78) scale(1 1.040)" font-size="16" text-anchor="end" >-0.06</text>
<text transform="translate(212.00 464.90) scale(1 1.040)" font-size="15.6" text-anchor="middle" >-100</text>
<text transform="translate(264.30 464.90) scale(1 1.040)" font-size="15.6" text-anchor="middle" >-50</text>
<text transform="translate(317.60 464.90) scale(1 1.040)" font-size="15.6" text-anchor="middle" >0</text>
<text transform="translate(369.90 464.90) scale(1 1.040)" font-size="15.6" text-anchor="middle" >50</text>
<text transform="translate(422.20 464.90) scale(1 1.040)" font-size="15.6" text-anchor="middle" >100</text>
<text transform="translate(271.35 480.60) scale(1 0.911)" font-size="16.3" text-anchor="start" >p</text>
<text transform="translate(283.31 480.60) scale(1 0.911)" font-size="16.3" text-anchor="start" >a</text>
<text transform="translate(304.30 480.60) scale(1 0.883)" font-size="16.3" text-anchor="start" >/</text>
<text transform="translate(312.99 480.60) scale(1 0.883)" font-size="16.3" text-anchor="start" >(</text>
<text transform="translate(320.80 480.60) scale(1 0.911)" font-size="16.3" text-anchor="start" >k</text>
<text transform="translate(339.53 480.60) scale(1 0.957)" font-size="16.3" text-anchor="start" >T</text>
<text transform="translate(358.20 480.60) scale(1 0.883)" font-size="16.3" text-anchor="start" >)</text>
<text transform="translate(292.59 473.40) scale(1 0.988)" font-size="10.8" text-anchor="start" >3</text>
<text transform="translate(294.88 486.10) scale(1 0.988)" font-size="10.8" text-anchor="start" >0</text>
<text transform="translate(331.31 486.10) scale(1 0.988)" font-size="10.8" text-anchor="start" >B</text>
<text transform="translate(347.41 486.10) scale(1 0.988)" font-size="10.8" text-anchor="start" >D</text>
<text transform="translate(352.08 473.40) scale(1 0.988)" font-size="10.8" text-anchor="start" >0</text>
<text transform="translate(158.48 415.55) rotate(-90) scale(1 0.950)" font-size="16">ε</text>
<text transform="translate(157.60 406.29) rotate(-90) scale(1 0.960)" font-size="16">(</text>
<text transform="translate(157.60 398.26) rotate(-90) scale(1 1.040)" font-size="16">T</text>
<text transform="translate(156.80 387.08) rotate(-90) scale(1 0.960)" font-size="16">=</text>
<text transform="translate(157.60 373.62) rotate(-90) scale(1 1.040)" font-size="16">0</text>
<text transform="translate(157.60 361.74) rotate(-90) scale(1 0.960)" font-size="16">,</text>
<text transform="translate(157.60 358.33) rotate(-90) scale(1 0.990)" font-size="16">p</text>
<text transform="translate(157.60 344.99) rotate(-90) scale(1 0.960)" font-size="16">)</text>
<text transform="translate(299.25 308.20) scale(1 1.040)" font-size="21.33" text-anchor="start" >N</text>
<text transform="translate(314.49 315.20) scale(1 0.990)" font-size="12" text-anchor="start" >el</text>
<text transform="translate(327.30 308.20) scale(1 0.960)" font-size="21.33" text-anchor="start" >/</text>
<text transform="translate(336.35 308.20) scale(1 1.040)" font-size="21.33" text-anchor="start" >N</text>
<text transform="translate(357.86 308.20) scale(1 0.960)" font-size="21.33" text-anchor="start" >=</text>
<text transform="translate(375.59 308.20) scale(1 1.040)" font-size="20.7" text-anchor="start" >0.5</text>
<text transform="translate(276.17 343.00) scale(1 1.040)" font-size="21.33" text-anchor="start" >J</text>
<text transform="translate(286.10 332.30) scale(1 0.990)" font-size="12" text-anchor="start" >d</text>
<text transform="translate(286.53 350.00) scale(1 1.040)" font-size="12" text-anchor="start" >0</text>
<text transform="translate(295.70 343.00) scale(1 0.960)" font-size="21.33" text-anchor="start" >/</text>
<text transform="translate(305.68 343.00) scale(1 0.960)" font-size="21.33" text-anchor="start" >(</text>
<text transform="translate(315.26 343.00) scale(1 0.990)" font-size="21.33" text-anchor="start" >k</text>
<text transform="translate(329.02 349.30) scale(1 1.040)" font-size="12" text-anchor="start" >B</text>
<text transform="translate(338.52 343.00) scale(1 1.040)" font-size="21.33" text-anchor="start" >T</text>
<text transform="translate(354.53 332.30) scale(1 1.040)" font-size="12" text-anchor="start" >0</text>
<text transform="translate(350.92 349.30) scale(1 1.040)" font-size="12" text-anchor="start" >D</text>
<text transform="translate(365.18 343.00) scale(1 0.960)" font-size="21.33" text-anchor="start" >)</text>
<text transform="translate(375.96 343.00) scale(1 0.960)" font-size="21.33" text-anchor="start" >=</text>
<text transform="translate(393.90 343.00) scale(1 1.040)" font-size="20.4" text-anchor="start" >0.5</text>
<text transform="translate(212.25 435.70) scale(1 1.040)" font-size="21.33" text-anchor="start" >D</text>
<text transform="translate(231.80 435.70) scale(1 0.960)" font-size="21.33" text-anchor="start" >/</text>
<text transform="translate(240.78 435.70) scale(1 0.960)" font-size="21.33" text-anchor="start" >(</text>
<text transform="translate(250.16 435.70) scale(1 0.990)" font-size="21.33" text-anchor="start" >k</text>
<text transform="translate(263.92 442.60) scale(1 1.040)" font-size="12" text-anchor="start" >B</text>
<text transform="translate(273.12 435.70) scale(1 1.040)" font-size="21.33" text-anchor="start" >T</text>
<text transform="translate(286.02 442.60) scale(1 1.040)" font-size="12" text-anchor="start" >D</text>
<text transform="translate(289.53 425.70) scale(1 1.040)" font-size="12" text-anchor="start" >0</text>
<text transform="translate(299.28 435.70) scale(1 0.960)" font-size="21.33" text-anchor="start" >)</text>
<text transform="translate(310.86 435.70) scale(1 0.960)" font-size="21.33" text-anchor="start" >=</text>
<text transform="translate(330.04 435.70) scale(1 1.040)" font-size="20.5" text-anchor="start" >10.0</text>
</svg>
</body></html>
